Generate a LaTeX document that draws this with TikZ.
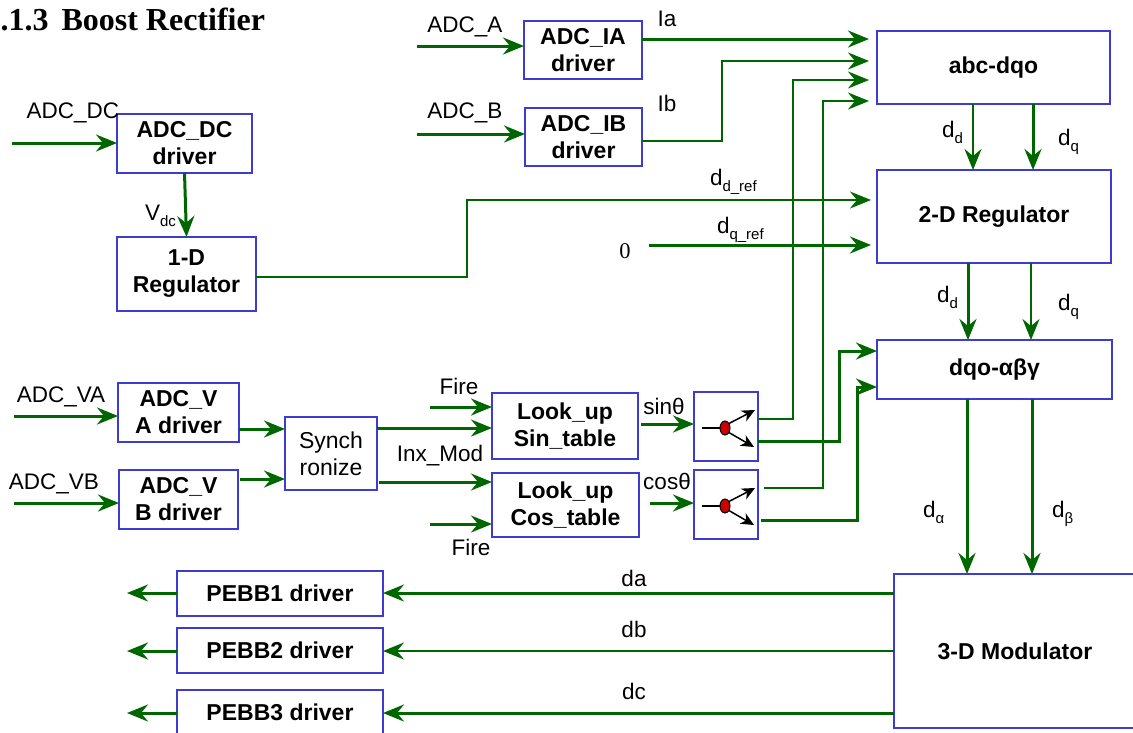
\documentclass[tikz,border=0pt]{standalone}
\usepackage{fontspec}
\setmainfont{Liberation Sans}
\newfontfamily\seriffont{Liberation Serif}
\usetikzlibrary{arrows.meta}
\definecolor{wire}{RGB}{0,102,0}
\definecolor{boxblue}{RGB}{60,60,210}
\definecolor{dotred}{RGB}{205,0,0}
\newcommand{\lowsub}[1]{\raisebox{-6pt}{\fontsize{15}{15}\selectfont #1}}
\begin{document}
\begin{tikzpicture}[x=1pt,y=-1pt,
  every node/.style={inner sep=0pt, outer sep=0pt},
  blk/.style={draw=boxblue, line width=2.6pt, fill=white, align=center,
    font=\fontsize{23}{27}\selectfont\bfseries},
  blkreg/.style={blk, font=\fontsize{23}{27}\selectfont},
  lbl/.style={font=\fontsize{22.5}{27}\selectfont, anchor=base},
  lblw/.style={font=\fontsize{22.5}{27}\selectfont, anchor=base west},
  wthick/.style={draw=wire, line width=3pt},
  wthin/.style={draw=wire, line width=2pt},
  tip/.style={-{Stealth[length=21pt,width=17pt,inset=7pt]}},
  blacktip/.style={draw=black, line width=1.5pt, -{Stealth[length=13pt,width=12pt,inset=4pt]}},
]
\useasboundingbox (0,0) rectangle (1133,732);

% title
\node[anchor=base east, font=\seriffont\fontsize{32}{36}\selectfont\bfseries] (title) at (265,30) {5.1.3\hspace{13pt}Boost Rectifier};

% blocks
\node[blk, minimum width=135pt, minimum height=59pt] (adcdc) at (184.5,143.5) {ADC\_DC\\driver};
\node[blk, minimum width=139pt, minimum height=74pt] (reg1) at (186.5,274) {1-D\\Regulator};
\node[blk, minimum width=118pt, minimum height=58pt] (adcia) at (583,50) {ADC\_IA\\driver};
\node[blk, minimum width=117pt, minimum height=58pt] (adcib) at (583.5,137) {ADC\_IB\\driver};
\node[blk, minimum width=233pt, minimum height=73pt] (abc) at (993.5,67.5) {abc-dqo};
\node[blk, minimum width=234pt, minimum height=93pt] (reg2) at (994,216.5) {2-D Regulator};
\node[blk, minimum width=235pt, minimum height=59pt] (dqo) at (994.5,369.5) {dqo-αβγ};
\node[blk, minimum width=242pt, minimum height=154pt] (mod) at (1015,651) {3-D Modulator};
\node[blk, minimum width=121pt, minimum height=59pt] (adcva) at (178.5,412.5) {ADC\_V\\A driver};
\node[blk, minimum width=119pt, minimum height=59pt] (adcvb) at (178.5,499.5) {ADC\_V\\B driver};
\node[blkreg, minimum width=92pt, minimum height=73pt] (sync) at (331,453.5) {Synch\\ronize};
\node[blk, minimum width=146pt, minimum height=66pt] (sintab) at (565,426) {Look\_up\\Sin\_table};
\node[blk, minimum width=147pt, minimum height=64pt] (costab) at (565.5,505) {Look\_up\\Cos\_table};
\node[blk, minimum width=64pt, minimum height=69pt] (sinsp) at (726,426.5) {};
\node[blk, minimum width=64pt, minimum height=69pt] (cossp) at (726,504.5) {};
\node[blk, minimum width=206pt, minimum height=45pt] (pebb1) at (280,593.5) {PEBB1 driver};
\node[blk, minimum width=206pt, minimum height=45pt] (pebb2) at (280,650.5) {PEBB2 driver};
\node[blk, minimum width=206pt, minimum height=45pt] (pebb3) at (280,712.5) {PEBB3 driver};

% splitter icons
\foreach \s/\yc in {sinsp/428, cossp/506}{
  \draw[black, line width=1.3pt] (702,\yc) -- (722,\yc);
  \draw[blacktip] (728,\yc-4) -- (755,\yc-18);
  \draw[blacktip] (728,\yc+4) -- (754,\yc+19);
  \filldraw[fill=dotred, draw=black, line width=1pt] (725,\yc) ellipse [x radius=5pt, y radius=7pt];
}

% free ends
\coordinate (indc) at (12,143);
\coordinate (ina) at (417,46);
\coordinate (inb) at (417,134);
\coordinate (inva) at (14,416);
\coordinate (invb) at (14,503);
\coordinate (fire1) at (430,407);
\coordinate (fire2) at (430,524);
\coordinate (zeroout) at (649,245);
\coordinate (p1out) at (127,593);
\coordinate (p2out) at (127,651);
\coordinate (p3out) at (127,713);

% input arrows
\draw[wthick,tip] (indc) -- (adcdc.west |- indc);
\draw[wthick,tip] (ina) -- (adcia.west |- ina);
\draw[wthick,tip] (inb) -- (adcib.west |- inb);
\draw[wthick,tip] (inva) -- (adcva.west |- inva);
\draw[wthick,tip] (invb) -- (adcvb.west |- invb);
\draw[wthick,tip] (fire1) -- (sintab.west |- fire1);
\draw[wthick,tip] (fire2) -- (costab.west |- fire2);

% ADC_DC -> 1-D
\draw[wthick,tip] (adcdc.south) -- (reg1.north);
% 1-D -> 2-D (d_d_ref)
\draw[wthin,tip,shorten >=6pt] (reg1.east |- 0,277) -| (467,200) -- (reg2.west |- 0,200);
% 0 -> 2-D (d_q_ref)
\draw[wthick,tip,shorten >=6pt] (zeroout) -- (reg2.west |- zeroout);

% Ia, Ib
\draw[wthick,tip,shorten >=8pt] (adcia.east |- 0,39) -- (abc.west |- 0,39);
\draw[wthin,tip,shorten >=8pt] (adcib.east |- 0,141) -| (722,61) -- (abc.west |- 0,61);

% ADC_V -> sync
\draw[wthick,tip] (adcva.east |- 0,429) -- (sync.west |- 0,429);
\draw[wthick,tip] ([xshift=2pt]adcvb.east |- 0,479) -- (sync.west |- 0,479);
% sync -> tables
\draw[wthick,tip] (sync.east |- 0,428) -- (sintab.west |- 0,428);
\draw[wthick,tip] ([xshift=2pt]sync.east |- 0,482) -- (costab.west |- 0,482);
% tables -> splitters
\draw[wthick,tip] ([xshift=3pt]sintab.east |- 0,424) -- (sinsp.west |- 0,424);
\draw[wthick,tip] ([xshift=11pt]costab.east |- 0,503) -- (cossp.west |- 0,503);

% splitter outputs
\draw[wthin,tip,shorten >=8pt] (sinsp.east |- 0,419) -| (793,80) -- (abc.west |- 0,80);
\draw[wthin,tip,shorten >=8pt] ([xshift=6pt]cossp.east |- 0,488) -| (823,101) -- (abc.west |- 0,101);
\draw[wthick,tip] (sinsp.east |- 0,441) -| (839,351) -- (dqo.west |- 0,351);
\draw[wthick,tip] ([xshift=3pt]cossp.east |- 0,520) -| (857,387) -- (dqo.west |- 0,387);

% vertical chain
\draw[wthin,tip] (abc.south -| 973,0) -- (reg2.north -| 973,0);
\draw[wthick,tip] (abc.south -| 1033,0) -- (reg2.north -| 1033,0);
\draw[wthick,tip] (reg2.south -| 968,0) -- (dqo.north -| 968,0);
\draw[wthin,tip] (reg2.south -| 1031,0) -- (dqo.north -| 1031,0);
\draw[wthick,tip] (dqo.south -| 967,0) -- (mod.north -| 967,0);
\draw[wthick,tip] (dqo.south -| 1032,0) -- (mod.north -| 1032,0);

% modulator -> PEBB
\draw[wthick,tip] (mod.west |- 0,593) -- (pebb1.east |- 0,593);
\draw[wthin,tip] (mod.west |- 0,651) -- (pebb2.east |- 0,651);
\draw[wthick,tip] (mod.west |- 0,713) -- (pebb3.east |- 0,713);
\draw[wthick,tip] (pebb1.west |- p1out) -- (p1out);
\draw[wthick,tip] (pebb2.west |- p2out) -- (p2out);
\draw[wthick,tip] (pebb3.west |- p3out) -- (p3out);

% labels
\node[lbl] (lbldc) at (73,118) {ADC\_DC};
\node[lblw] (lblvdc) at (145,220) {V\lowsub{dc}};
\node[lbl] (lbla) at (465,32) {ADC\_A};
\node[lbl] (lblb) at (465,118) {ADC\_B};
\node[lbl] (lblia) at (667,26) {Ia};
\node[lbl] (lblib) at (667,111) {Ib};
\node[lblw] (lbldref) at (710,185) {d\lowsub{d\_ref}};
\node[lblw] (lblqref) at (717,233) {d\lowsub{q\_ref}};
\node[anchor=base, font=\seriffont\fontsize{22.5}{27}\selectfont] (zero) at (625,258) {0};
\node[lblw] (l1) at (942,137) {d\lowsub{d}};
\node[lblw] (l2) at (1058,145) {d\lowsub{q}};
\node[lblw] (l3) at (937,302) {d\lowsub{d}};
\node[lblw] (l4) at (1058,310) {d\lowsub{q}};
\node[lblw] (l5) at (923,517) {d\lowsub{α}};
\node[lblw] (l6) at (1052,517) {d\lowsub{β}};
\node[lbl] (lblva) at (61,402) {ADC\_VA};
\node[lbl] (lblvb) at (54,489) {ADC\_VB};
\node[lbl] (lblf1) at (459,394) {Fire};
\node[lbl] (lblinx) at (440,461) {Inx\_Mod};
\node[lbl] (lblf2) at (471,555) {Fire};
\node[lbl] (lblsin) at (664,414) {sinθ};
\node[lbl] (lblcos) at (667,489) {cosθ};
\node[lbl] (lblda) at (634,586) {da};
\node[lbl] (lbldb) at (634,637) {db};
\node[lbl] (lbldc2) at (634,699) {dc};
\end{tikzpicture}
\end{document}
